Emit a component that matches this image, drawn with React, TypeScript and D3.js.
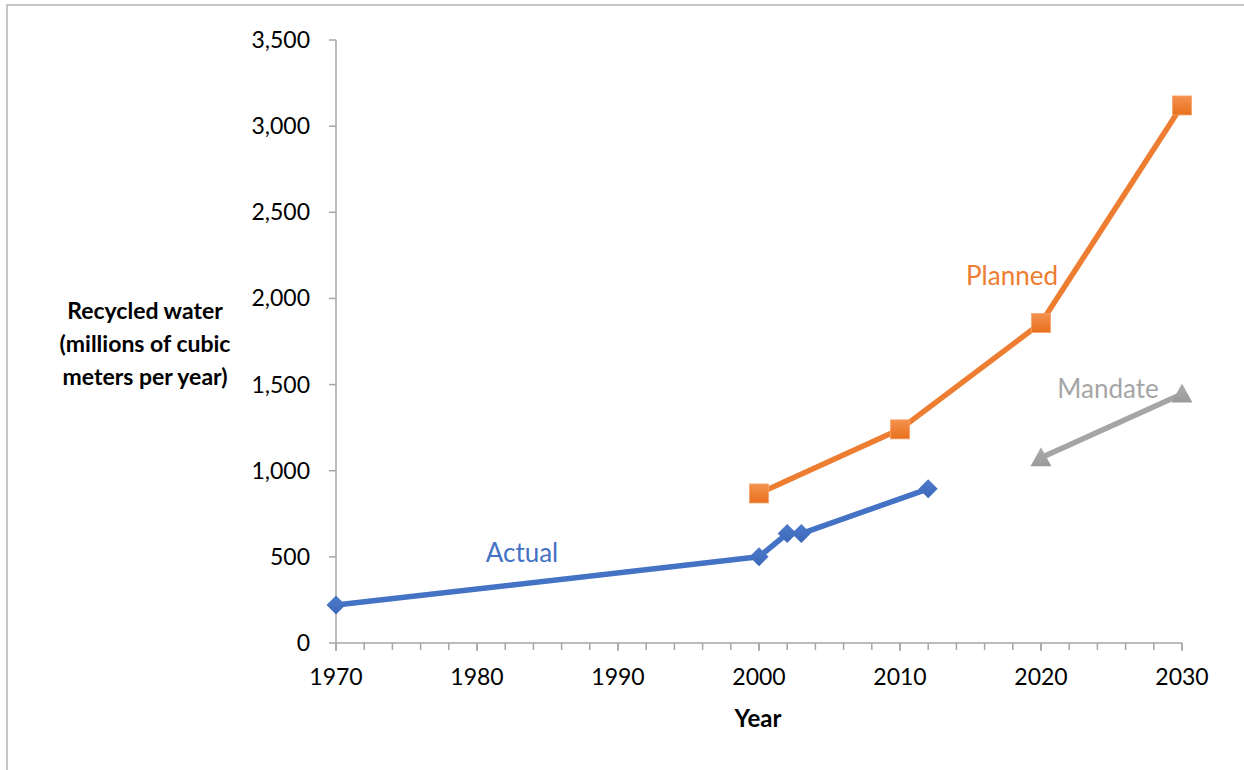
import React from "react";
import * as d3 from "d3";

// Recycled water volumes, millions of cubic metres per year
const actualYears = [1970, 2000, 2002, 2003, 2012];
const actualValues = [220, 500, 635, 635, 895];

const plannedYears = [2000, 2010, 2020, 2030];
const plannedValues = [868, 1240, 1857, 3120];

const mandateYears = [2020, 2030];
const mandateValues = [1075, 1445];

const yTicks = [0, 500, 1000, 1500, 2000, 2500, 3000, 3500];
const xMajorTicks = [1970, 1980, 1990, 2000, 2010, 2020, 2030];
const xMinorTicks = d3.range(1970, 2031, 2);

const yTitleLines = ["Recycled water", "(millions of cubic", "meters per year)"];

const W = 1244;
const H = 770;
const FONT = "Lato, Carlito, Calibri, 'Open Sans', sans-serif";

const BLUE = "#4472C4";
const ORANGE = "#ED7D31";
const GRAY = "#A5A5A5";
const AXIS = "#A6A6A6";

export default function App() {
  const x = d3.scaleLinear().domain([1970, 2030]).range([336, 1182]);
  const y = d3.scaleLinear().domain([0, 3500]).range([643, 40]);
  const fmt = d3.format(",");

  const line = d3
    .line<[number, number]>()
    .x((d) => x(d[0]))
    .y((d) => y(d[1]));

  const actual: [number, number][] = actualYears.map((yr, i) => [yr, actualValues[i]]);
  const planned: [number, number][] = plannedYears.map((yr, i) => [yr, plannedValues[i]]);
  const mandate: [number, number][] = mandateYears.map((yr, i) => [yr, mandateValues[i]]);

  const diamond = (cx: number, cy: number, r: number) =>
    `M${cx},${cy - r}L${cx + r},${cy}L${cx},${cy + r}L${cx - r},${cy}Z`;
  const triangle = (cx: number, cy: number, s: number) =>
    `M${cx},${cy - s * 0.55}L${cx + s * 0.55},${cy + s * 0.45}L${cx - s * 0.55},${cy + s * 0.45}Z`;

  return (
    <svg
      width={W}
      height={H}
      style={{ position: "absolute", left: 0, top: 0, background: "#fff" }}
      fontFamily={FONT}
    >
      <defs>
        <linearGradient id="gOrange" x1="0" y1="0" x2="0" y2="1">
          <stop offset="0" stopColor="#F4914D" />
          <stop offset="1" stopColor="#E8701E" />
        </linearGradient>
        <linearGradient id="gBlue" x1="0" y1="0" x2="0" y2="1">
          <stop offset="0" stopColor="#4D7BCB" />
          <stop offset="1" stopColor="#3B67B8" />
        </linearGradient>
        <linearGradient id="gGray" x1="0" y1="0" x2="0" y2="1">
          <stop offset="0" stopColor="#ADADAD" />
          <stop offset="1" stopColor="#999999" />
        </linearGradient>
      </defs>

      {/* chart area frame */}
      <path d={`M7,${H}V5H${W}`} fill="none" stroke="#B4B4B4" strokeWidth={1.5} />

      {/* y axis */}
      <line x1={x(1970)} x2={x(1970)} y1={y(3500)} y2={y(0)} stroke={AXIS} strokeWidth={1.5} />
      {yTicks.map((t) => (
        <g key={`y${t}`}>
          <line x1={x(1970) - 7} x2={x(1970)} y1={y(t)} y2={y(t)} stroke={AXIS} strokeWidth={1.5} />
          <text x={310} y={y(t)} dy="0.35em" textAnchor="end" fontSize={23} fill="#000">
            {fmt(t)}
          </text>
        </g>
      ))}

      {/* x axis */}
      <line x1={x(1970)} x2={x(2030)} y1={y(0)} y2={y(0)} stroke={AXIS} strokeWidth={1.5} />
      {xMinorTicks.map((t) => (
        <line key={`xm${t}`} x1={x(t)} x2={x(t)} y1={y(0)} y2={y(0) + 7} stroke={AXIS} strokeWidth={1.5} />
      ))}
      {xMajorTicks.map((t) => (
        <g key={`x${t}`}>
          <line x1={x(t)} x2={x(t)} y1={y(0)} y2={y(0) + 8} stroke={AXIS} strokeWidth={1.5} />
          <text x={x(t)} y={685} textAnchor="middle" fontSize={23} fill="#000">
            {t}
          </text>
        </g>
      ))}

      {/* axis titles */}
      <text x={758} y={727} textAnchor="middle" fontSize={24} fontWeight="bold" fill="#000">
        Year
      </text>
      {yTitleLines.map((s, i) => (
        <text key={s} x={145} y={319 + i * 33} textAnchor="middle" fontSize={23} fontWeight="bold" fill="#000">
          {s}
        </text>
      ))}

      {/* series */}
      <path d={line(mandate) || ""} fill="none" stroke={GRAY} strokeWidth={5.5} strokeLinejoin="round" />
      {mandate.map(([a, b], i) => (
        <path key={`mt${i}`} d={triangle(x(a), y(b), 19)} fill="url(#gGray)" />
      ))}

      <path d={line(planned) || ""} fill="none" stroke={ORANGE} strokeWidth={5.5} strokeLinejoin="round" />
      {planned.map(([a, b], i) => (
        <rect
          key={`ps${i}`}
          x={x(a) - 9.5}
          y={y(b) - 9.5}
          width={19}
          height={19}
          fill="url(#gOrange)"
          stroke="#F5A36A"
          strokeWidth={0.8}
        />
      ))}

      <path d={line(actual) || ""} fill="none" stroke={BLUE} strokeWidth={5.5} strokeLinejoin="round" />
      {actual.map(([a, b], i) => (
        <path key={`ad${i}`} d={diamond(x(a), y(b), 9.5)} fill="url(#gBlue)" />
      ))}

      {/* series labels */}
      <text x={522} y={562} textAnchor="middle" fontSize={26} fill={BLUE}>
        Actual
      </text>
      <text x={1012} y={285} textAnchor="middle" fontSize={26} fill={ORANGE}>
        Planned
      </text>
      <text x={1108} y={398} textAnchor="middle" fontSize={26} fill={GRAY}>
        Mandate
      </text>
    </svg>
  );
}
